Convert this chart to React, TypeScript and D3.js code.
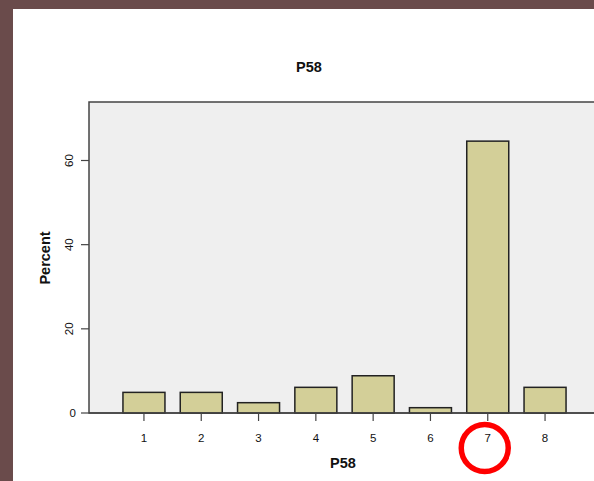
import React from "react";
import * as d3 from "d3";

const categories = ["1", "2", "3", "4", "5", "6", "7", "8"];
const percents = [4.9, 4.9, 2.45, 6.1, 8.85, 1.26, 64.6, 6.1];
const yTicks = [0, 20, 40, 60];
const title = "P58";
const xTitle = "P58";
const yTitle = "Percent";

const W = 594;
const H = 481;

export default function App() {
  const plotLeft = 89;
  const plotTop = 102;
  const baseY = 413;
  const y = d3.scaleLinear().domain([0, 73.9]).range([baseY, plotTop]);
  const x = d3
    .scaleBand()
    .domain(categories)
    .range([115.3, 115.3 + 8 * 57.3])
    .paddingInner(0.267)
    .paddingOuter(0.1335);
  const font = "'Liberation Sans', Arial, sans-serif";
  return (
    <svg
      width={W}
      height={H}
      style={{ position: "absolute", left: 0, top: 0 }}
      fontFamily={font}
    >
      <rect x={0} y={0} width={W} height={H} fill="#6a4b4b" />
      <rect x={13} y={9} width={W - 13} height={H - 9} fill="#ffffff" />
      <rect
        x={plotLeft}
        y={plotTop}
        width={W - plotLeft + 10}
        height={baseY - plotTop}
        fill="#efefef"
        stroke="#444"
        strokeWidth={1.5}
      />
      {percents.map((v, i) => (
        <rect
          key={i}
          x={x(categories[i])!}
          y={y(v)}
          width={x.bandwidth()}
          height={baseY - y(v)}
          fill="#d3cf98"
          stroke="#222"
          strokeWidth={1.5}
        />
      ))}
      <line x1={plotLeft} x2={W} y1={baseY} y2={baseY} stroke="#444" strokeWidth={1.5} />
      {yTicks.map((t) => (
        <g key={t}>
          <line x1={81} x2={plotLeft} y1={y(t)} y2={y(t)} stroke="#444" strokeWidth={1.2} />
          {t === 0 ? (
            <text x={76} y={y(t)} dy="0.35em" textAnchor="end" fontSize={11.5} fill="#111">
              {t}
            </text>
          ) : (
            <text
              transform={`translate(${73},${y(t)}) rotate(-90)`}
              textAnchor="middle"
              fontSize={11.5}
              fill="#111"
            >
              {t}
            </text>
          )}
        </g>
      ))}
      {categories.map((c) => {
        const cx = x(c)! + x.bandwidth() / 2;
        return (
          <g key={c}>
            <line x1={cx} x2={cx} y1={baseY} y2={baseY + 8} stroke="#444" strokeWidth={1.2} />
            <text x={cx} y={442} textAnchor="middle" fontSize={11.5} fill="#111">
              {c}
            </text>
          </g>
        );
      })}
      <text x={309} y={72} textAnchor="middle" fontSize={14.5} fontWeight="bold" fill="#111">
        {title}
      </text>
      <text x={343} y={468} textAnchor="middle" fontSize={14.5} fontWeight="bold" fill="#111">
        {xTitle}
      </text>
      <text
        transform={`translate(${50},${258}) rotate(-90)`}
        textAnchor="middle"
        fontSize={14.5}
        fontWeight="bold"
        fill="#111"
      >
        {yTitle}
      </text>
      <circle
        cx={x("7")! + x.bandwidth() / 2 - 3}
        cy={448}
        r={23.5}
        fill="none"
        stroke="#ff0000"
        strokeWidth={5.5}
      />
    </svg>
  );
}
